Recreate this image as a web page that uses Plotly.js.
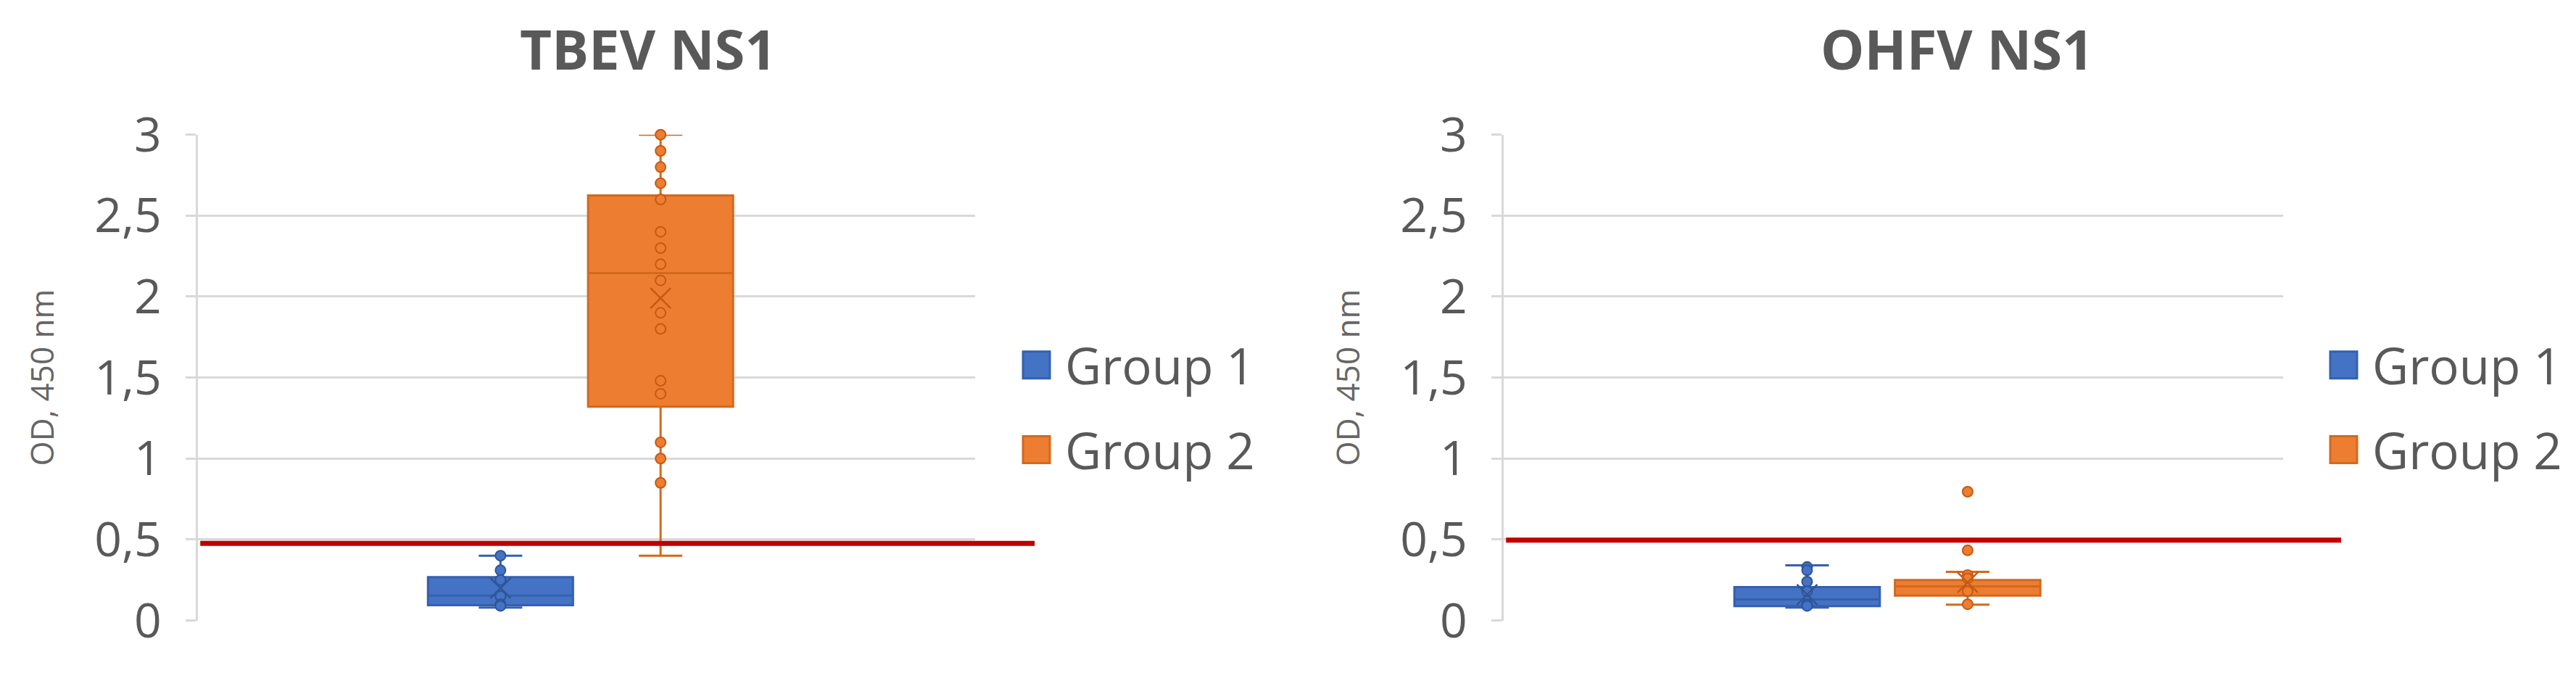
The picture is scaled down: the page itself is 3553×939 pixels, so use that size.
<!DOCTYPE html>
<html>
<head>
<meta charset="utf-8">
<script src="https://cdn.plot.ly/plotly-3.0.1.min.js"></script>
<style>
  html, body { margin: 0; padding: 0; background: #ffffff; }
  #chart { width: 3553px; height: 939px; }
</style>
</head>
<body>
<div id="chart"></div>
<script>
// ---------- data ----------
const groups = ['Group 1', 'Group 2'];
const panelTitles = ['TBEV NS1', 'OHFV NS1'];
const yTitle = 'OD, 450 nm';

// TBEV NS1 panel: box statistics per group
const tbevQ1     = [0.094, 1.32];
const tbevMedian = [0.153, 2.145];
const tbevQ3     = [0.268, 2.625];
const tbevLow    = [0.08, 0.40];
const tbevHigh   = [0.40, 3.00];
const tbevMean   = [0.20, 1.99];
const tbevG1Points = [0.40, 0.31, 0.25, 0.15, 0.10, 0.09];
const tbevG2Points = [3.00, 2.90, 2.80, 2.70, 2.60, 2.40, 2.30, 2.20, 2.10, 1.90, 1.80, 1.48, 1.40, 1.10, 1.00, 0.85];

// OHFV NS1 panel
const ohfvQ1     = [0.089, 0.153];
const ohfvMedian = [0.13, 0.21];
const ohfvQ3     = [0.206, 0.25];
const ohfvLow    = [0.08, 0.097];
const ohfvHigh   = [0.34, 0.30];
const ohfvMean   = [0.16, 0.235];
const ohfvG1Points = [0.33, 0.31, 0.24, 0.18, 0.10, 0.09];
const ohfvG2Points = [0.795, 0.433, 0.28, 0.26, 0.18, 0.10];

// cut-off lines
const thresholds = [0.476, 0.496];

// y axis ticks
const yTickVals = [0, 0.5, 1, 1.5, 2, 2.5, 3];

// ---------- styles ----------
const fill   = ['#4472C4', '#ED7D31'];
const edge   = ['#3560AE', '#D2691F'];
const dark   = ['#2F5597', '#C55A11'];
const txt    = '#595959';
const gridC  = '#d9d9d9';
const FONT   = '"Open Sans", "DejaVu Sans", sans-serif';

const panels = [
  {q1: tbevQ1, med: tbevMedian, q3: tbevQ3, lo: tbevLow, hi: tbevHigh, mean: tbevMean,
   pts: [tbevG1Points, tbevG2Points], xa: 'x', ya: 'y', legend: 'legend'},
  {q1: ohfvQ1, med: ohfvMedian, q3: ohfvQ3, lo: ohfvLow, hi: ohfvHigh, mean: ohfvMean,
   pts: [ohfvG1Points, ohfvG2Points], xa: 'x2', ya: 'y2', legend: 'legend2'}
];

const data = [];
panels.forEach((p, pi) => {
  groups.forEach((g, gi) => {
    data.push({
      type: 'box', name: g, x: [g],
      q1: [p.q1[gi]], median: [p.med[gi]], q3: [p.q3[gi]],
      lowerfence: [p.lo[gi]], upperfence: [p.hi[gi]],
      boxpoints: false, boxmean: false,
      width: 0.906, whiskerwidth: 0.3,
      fillcolor: fill[gi], line: {color: edge[gi], width: 3},
      xaxis: p.xa, yaxis: p.ya, legend: p.legend,
      legendgroup: 'g' + pi + gi, showlegend: true,
      hoverinfo: 'skip'
    });
  });
  groups.forEach((g, gi) => {
    const vals = p.pts[gi];
    data.push({
      type: 'scatter', mode: 'markers', name: g + ' points',
      x: vals.map(() => g), y: vals,
      marker: {symbol: 'circle', size: 14, color: fill[gi], line: {color: dark[gi], width: 2}},
      xaxis: p.xa, yaxis: p.ya, showlegend: false, cliponaxis: false, hoverinfo: 'skip'
    });
    data.push({
      type: 'scatter', mode: 'markers', name: g + ' mean',
      x: [g], y: [p.mean[gi]],
      marker: {symbol: 'x-thin-open', size: 28, color: dark[gi], line: {color: dark[gi], width: 2.5}},
      xaxis: p.xa, yaxis: p.ya, showlegend: false, hoverinfo: 'skip'
    });
  });
});

const W = 3553, H = 939;
const yDomain = [1 - 855.5 / H, 1 - 185.7 / H];
const xDomains = [[273 / W, 1345 / W], [2074 / W, 3149 / W]];
const xRange = [-1.89, 2.965];

function xAxis(dom) {
  return {domain: dom, type: 'category', categoryorder: 'array', categoryarray: groups,
          range: xRange, showgrid: false, showticklabels: false, showline: false,
          zeroline: false, ticks: '', fixedrange: true};
}
function yAxis(dom, anchor) {
  return {domain: dom, anchor: anchor, range: [0, 3], tickvals: yTickVals,
          showgrid: true, gridcolor: gridC, gridwidth: 3, zeroline: false,
          showline: true, linecolor: gridC, linewidth: 3,
          ticks: 'outside', ticklen: 14, tickwidth: 3, tickcolor: gridC,
          ticklabelstandoff: 20,
          tickfont: {family: FONT, size: 66, color: txt},
          title: {text: yTitle, font: {family: FONT, size: 44, color: '#666666'}, standoff: 42},
          automargin: false, fixedrange: true};
}

function legendCfg(xPx) {
  return {x: xPx / W, xanchor: 'left', y: 1 - 452 / H, yanchor: 'top',
          font: {family: FONT, size: 69, color: txt}, bgcolor: 'rgba(0,0,0,0)',
          borderwidth: 0, itemwidth: 69, traceorder: 'grouped', tracegroupgap: 24,
          itemclick: false, itemdoubleclick: false};
}

const layout = {
  width: W, height: H,
  margin: {l: 0, r: 0, t: 0, b: 0},
  paper_bgcolor: '#ffffff', plot_bgcolor: '#ffffff',
  separators: ', ',
  font: {family: FONT, color: txt},
  boxmode: 'overlay',
  showlegend: true,
  xaxis: xAxis(xDomains[0]),
  yaxis: yAxis(yDomain, 'x'),
  xaxis2: xAxis(xDomains[1]),
  yaxis2: yAxis(yDomain, 'x2'),
  legend: legendCfg(1390),
  legend2: legendCfg(3193),
  annotations: [
    {text: '<b>' + panelTitles[0] + '</b>', xref: 'paper', yref: 'paper', x: 894 / W, y: 1 - 66 / H,
     xanchor: 'center', yanchor: 'middle', showarrow: false, font: {family: FONT, size: 76, color: txt}},
    {text: '<b>' + panelTitles[1] + '</b>', xref: 'paper', yref: 'paper', x: 2699 / W, y: 1 - 66 / H,
     xanchor: 'center', yanchor: 'middle', showarrow: false, font: {family: FONT, size: 76, color: txt}}
  ],
  shapes: [
    {type: 'line', xref: 'x domain', yref: 'y', x0: 0.003, x1: (1427 - 273) / (1345 - 273),
     y0: thresholds[0], y1: thresholds[0], line: {color: '#C00000', width: 7}, layer: 'above'},
    {type: 'line', xref: 'x2 domain', yref: 'y2', x0: 0.003, x1: (3229 - 2074) / (3149 - 2074),
     y0: thresholds[1], y1: thresholds[1], line: {color: '#C00000', width: 7}, layer: 'above'}
  ]
};

Plotly.newPlot('chart', data, layout, {staticPlot: true, displayModeBar: false}).then(function (gd) {
  gd.querySelectorAll('path.legendbox').forEach(function (p) {
    p.setAttribute('d', 'M18.5,18.5H-18.5V-18.5H18.5Z');
  });
});
</script>
</body>
</html>
